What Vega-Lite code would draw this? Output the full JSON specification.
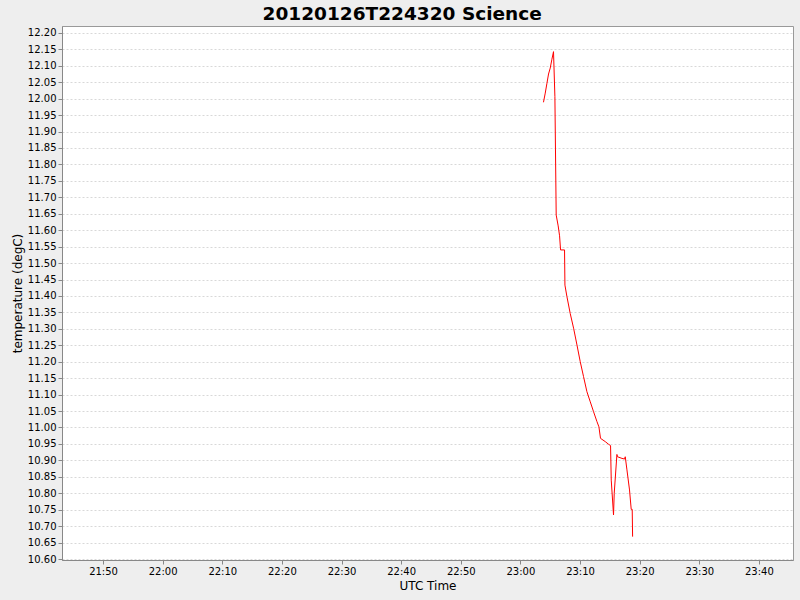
{
  "$schema": "https://vega.github.io/schema/vega-lite/v6.json",
  "autosize": "none",
  "width": 731,
  "height": 534,
  "padding": {"left": 62, "top": 26, "right": 7, "bottom": 40},
  "background": "#EEEEEE",
  "title": {
    "text": "20120126T224320 Science",
    "anchor": "middle",
    "frame": "bounds",
    "offset": 3,
    "font": "DejaVu Sans",
    "fontSize": 18.5,
    "fontWeight": "bold",
    "color": "#000000"
  },
  "config": {
    "view": {"fill": "#FFFFFF", "stroke": "#999999", "strokeWidth": 1},
    "axis": {
      "labelFont": "DejaVu Sans",
      "labelFontSize": 10,
      "labelColor": "#000000",
      "titleFont": "DejaVu Sans",
      "titleFontSize": 12,
      "titleFontWeight": "normal",
      "titleColor": "#000000",
      "domainColor": "#888888",
      "tickColor": "#888888",
      "tickSize": 4
    }
  },
  "data": {
    "values": [
      {"time": "2012-01-26T23:03:52Z", "temperature": 11.989},
      {"time": "2012-01-26T23:04:10Z", "temperature": 12.017},
      {"time": "2012-01-26T23:04:27Z", "temperature": 12.047},
      {"time": "2012-01-26T23:04:43Z", "temperature": 12.075},
      {"time": "2012-01-26T23:05:00Z", "temperature": 12.093},
      {"time": "2012-01-26T23:05:17Z", "temperature": 12.12},
      {"time": "2012-01-26T23:05:33Z", "temperature": 12.143},
      {"time": "2012-01-26T23:05:47Z", "temperature": 12.006},
      {"time": "2012-01-26T23:06:00Z", "temperature": 11.646},
      {"time": "2012-01-26T23:06:20Z", "temperature": 11.613},
      {"time": "2012-01-26T23:06:34Z", "temperature": 11.583},
      {"time": "2012-01-26T23:06:44Z", "temperature": 11.54},
      {"time": "2012-01-26T23:07:24Z", "temperature": 11.54},
      {"time": "2012-01-26T23:07:28Z", "temperature": 11.433},
      {"time": "2012-01-26T23:07:48Z", "temperature": 11.398},
      {"time": "2012-01-26T23:08:21Z", "temperature": 11.347},
      {"time": "2012-01-26T23:08:55Z", "temperature": 11.302},
      {"time": "2012-01-26T23:09:29Z", "temperature": 11.251},
      {"time": "2012-01-26T23:10:02Z", "temperature": 11.2},
      {"time": "2012-01-26T23:10:35Z", "temperature": 11.155},
      {"time": "2012-01-26T23:11:09Z", "temperature": 11.109},
      {"time": "2012-01-26T23:11:43Z", "temperature": 11.078},
      {"time": "2012-01-26T23:12:16Z", "temperature": 11.048},
      {"time": "2012-01-26T23:12:50Z", "temperature": 11.018},
      {"time": "2012-01-26T23:13:10Z", "temperature": 11.002},
      {"time": "2012-01-26T23:13:26Z", "temperature": 10.967},
      {"time": "2012-01-26T23:14:14Z", "temperature": 10.957},
      {"time": "2012-01-26T23:14:47Z", "temperature": 10.949},
      {"time": "2012-01-26T23:15:07Z", "temperature": 10.945},
      {"time": "2012-01-26T23:15:14Z", "temperature": 10.84},
      {"time": "2012-01-26T23:15:37Z", "temperature": 10.734},
      {"time": "2012-01-26T23:15:44Z", "temperature": 10.8},
      {"time": "2012-01-26T23:16:11Z", "temperature": 10.918},
      {"time": "2012-01-26T23:16:17Z", "temperature": 10.911},
      {"time": "2012-01-26T23:17:02Z", "temperature": 10.906},
      {"time": "2012-01-26T23:17:28Z", "temperature": 10.904},
      {"time": "2012-01-26T23:17:35Z", "temperature": 10.911},
      {"time": "2012-01-26T23:17:52Z", "temperature": 10.871},
      {"time": "2012-01-26T23:18:18Z", "temperature": 10.81},
      {"time": "2012-01-26T23:18:35Z", "temperature": 10.751},
      {"time": "2012-01-26T23:18:45Z", "temperature": 10.751},
      {"time": "2012-01-26T23:18:49Z", "temperature": 10.668}
    ]
  },
  "mark": {"type": "line", "color": "#FF0000", "strokeWidth": 1},
  "encoding": {
    "x": {
      "field": "time",
      "type": "temporal",
      "title": "UTC Time",
      "scale": {
        "type": "utc",
        "domain": [
          {"year": 2012, "month": 1, "date": 26, "hours": 21, "minutes": 43, "seconds": 7, "utc": true},
          {"year": 2012, "month": 1, "date": 26, "hours": 23, "minutes": 45, "seconds": 43, "utc": true}
        ],
        "nice": false
      },
      "axis": {
        "values": [
          {"year": 2012, "month": 1, "date": 26, "hours": 21, "minutes": 50, "utc": true},
          {"year": 2012, "month": 1, "date": 26, "hours": 22, "minutes": 0, "utc": true},
          {"year": 2012, "month": 1, "date": 26, "hours": 22, "minutes": 10, "utc": true},
          {"year": 2012, "month": 1, "date": 26, "hours": 22, "minutes": 20, "utc": true},
          {"year": 2012, "month": 1, "date": 26, "hours": 22, "minutes": 30, "utc": true},
          {"year": 2012, "month": 1, "date": 26, "hours": 22, "minutes": 40, "utc": true},
          {"year": 2012, "month": 1, "date": 26, "hours": 22, "minutes": 50, "utc": true},
          {"year": 2012, "month": 1, "date": 26, "hours": 23, "minutes": 0, "utc": true},
          {"year": 2012, "month": 1, "date": 26, "hours": 23, "minutes": 10, "utc": true},
          {"year": 2012, "month": 1, "date": 26, "hours": 23, "minutes": 20, "utc": true},
          {"year": 2012, "month": 1, "date": 26, "hours": 23, "minutes": 30, "utc": true},
          {"year": 2012, "month": 1, "date": 26, "hours": 23, "minutes": 40, "utc": true}
        ],
        "labelExpr": "utcFormat(datum.value, '%H:%M')",
        "grid": false,
        "labelPadding": 2,
        "titlePadding": 4
      }
    },
    "y": {
      "field": "temperature",
      "type": "quantitative",
      "title": "temperature (degC)",
      "scale": {"domain": [10.597, 12.221], "nice": false, "zero": false},
      "axis": {
        "tickCount": 33,
        "format": ".2f",
        "grid": true,
        "gridColor": "#D8D8D8",
        "gridDash": [2, 2],
        "labelPadding": 2,
        "titlePadding": 3
      }
    }
  }
}
